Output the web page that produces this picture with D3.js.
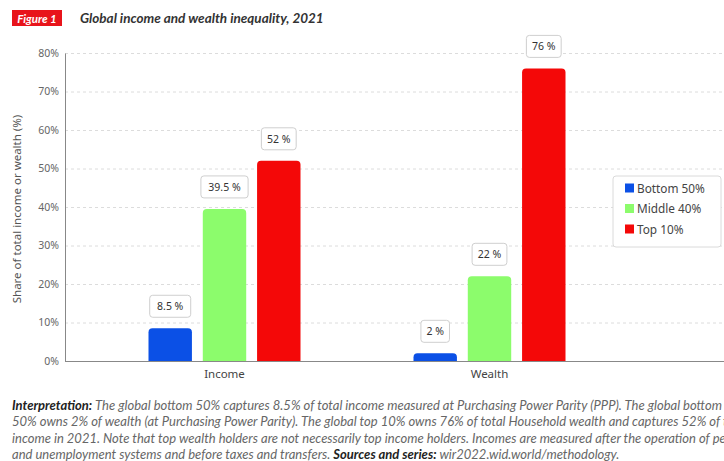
<!DOCTYPE html>
<html>
<head>
<meta charset="utf-8">
<script src="https://cdn.jsdelivr.net/npm/d3@7"></script>
<style>
  body { margin: 0; background: #fff; }
  svg { display: block; }
</style>
</head>
<body>
<svg id="chart" width="724" height="461"></svg>
<script>
// data
var categories = ['Income', 'Wealth'];
var groups = ['Bottom 50%', 'Middle 40%', 'Top 10%'];
var income = [8.5, 39.5, 52];
var wealth = [2, 22, 76];
var valueLabels = [['8.5 %', '39.5 %', '52 %'], ['2 %', '22 %', '76 %']];
var yTicks = [0, 10, 20, 30, 40, 50, 60, 70, 80];
var colors = ['#0b50e6', '#8cfc6c', '#f40808'];

var captionLines = [
	[['b', 'Interpretation: '], ['i', 'The global bottom 50% captures 8.5% of total income measured at Purchasing Power Parity (PPP). The global bottom']],
	[['i', '50% owns 2% of wealth (at Purchasing Power Parity). The global top 10% owns 76% of total Household wealth and captures 52% of total']],
	[['i', 'income in 2021. Note that top wealth holders are not necessarily top income holders. Incomes are measured after the operation of pension']],
	[['i', 'and unemployment systems and before taxes and transfers. '], ['b', 'Sources and series: '], ['i', 'wir2022.wid.world/methodology.']]
];

var series = [income, wealth];
var svg = d3.select('#chart');
var axisFont = "'Noto Sans', 'DejaVu Sans', sans-serif";

var plotLeft = 65, plotRight = 724, plotTop = 53, plotBottom = 361;

var y = d3.scaleLinear().domain([0, 80]).range([plotBottom, plotTop]);
var x0 = d3.scaleBand().domain(categories).range([92, 622]);
var x1 = d3.scaleBand().domain(groups).range([0, 152]).paddingInner(0.2);

// title
svg.append('rect').attr('x', 12).attr('y', 10).attr('width', 50).attr('height', 16)
	.attr('fill', '#e8141b');
svg.append('text').attr('x', 37).attr('y', 22.5).attr('text-anchor', 'middle')
	.attr('font-family', 'Lato').attr('font-style', 'italic').attr('font-weight', 'bold')
	.attr('font-size', '11.5px').attr('fill', '#fff').text('Figure 1');
svg.append('text').attr('x', 80).attr('y', 22.5)
	.attr('font-family', 'Lato').attr('font-style', 'italic').attr('font-weight', 'bold')
	.attr('font-size', '13.5px').attr('fill', '#333').text('Global income and wealth inequality, 2021');

// grid
svg.append('g').selectAll('line')
	.data(yTicks.filter(function(d){ return d > 0; }))
	.enter().append('line')
	.attr('x1', plotLeft).attr('x2', plotRight)
	.attr('y1', function(d){ return y(d) + 0.5; })
	.attr('y2', function(d){ return y(d) + 0.5; })
	.attr('stroke', '#dcdcdc').attr('stroke-dasharray', '3,3');

// y axis
var yAxis = svg.append('g').attr('transform', 'translate(' + plotLeft + ',0)')
	.call(d3.axisLeft(y).tickValues(yTicks).tickSize(0).tickPadding(6)
		.tickFormat(function(d){ return d + '%'; }));
yAxis.select('.domain').attr('stroke', '#888');
yAxis.selectAll('text').attr('font-family', axisFont).attr('font-size', '10.5px').attr('fill', '#666');

svg.append('text')
	.attr('transform', 'translate(21,' + ((plotTop + plotBottom) / 2 + 2) + ') rotate(-90)')
	.attr('text-anchor', 'middle')
	.attr('font-family', axisFont).attr('font-size', '11.5px').attr('fill', '#555')
	.text('Share of total income or wealth (%)');

// bars
var cat = svg.append('g').selectAll('g')
	.data(categories)
	.enter().append('g')
	.attr('transform', function(d){ return 'translate(' + (x0(d) + x0.bandwidth() / 2 - 76) + ',0)'; });

function barPath(x, w, yt, yb, r){
	r = Math.min(r, (yb - yt));
	return 'M' + x + ',' + yb + 'V' + (yt + r) +
		'Q' + x + ',' + yt + ' ' + (x + r) + ',' + yt +
		'H' + (x + w - r) +
		'Q' + (x + w) + ',' + yt + ' ' + (x + w) + ',' + (yt + r) +
		'V' + yb + 'Z';
}

cat.each(function(c, ci){
	var g = d3.select(this);
	series[ci].forEach(function(v, gi){
		var bx = x1(groups[gi]), bw = x1.bandwidth();
		g.append('path')
			.attr('d', barPath(bx, bw, y(v), y(0), 4))
			.attr('fill', colors[gi]);
		var lbl = valueLabels[ci][gi];
		var tw = lbl.length * 6.2 + 10;
		var cx = bx + bw / 2;
		g.append('rect')
			.attr('x', cx - tw / 2).attr('y', y(v) - 33)
			.attr('width', tw).attr('height', 22).attr('rx', 3)
			.attr('fill', '#fff').attr('stroke', '#cfcfcf');
		g.append('text')
			.attr('x', cx).attr('y', y(v) - 18)
			.attr('text-anchor', 'middle')
			.attr('font-family', axisFont).attr('font-size', '10.5px').attr('fill', '#333')
			.text(lbl);
	});
});

// x axis
svg.append('line').attr('x1', plotLeft).attr('x2', plotRight)
	.attr('y1', plotBottom + 0.5).attr('y2', plotBottom + 0.5)
	.attr('stroke', '#888');
svg.append('g').selectAll('text')
	.data(categories)
	.enter().append('text')
	.attr('x', function(d){ return x0(d) + x0.bandwidth() / 2; })
	.attr('y', plotBottom + 17)
	.attr('text-anchor', 'middle')
	.attr('font-family', axisFont).attr('font-size', '11.5px').attr('fill', '#444')
	.text(function(d){ return d; });

// legend
var lg = svg.append('g').attr('transform', 'translate(613,176)');
lg.append('rect').attr('width', 108).attr('height', 71).attr('rx', 3)
	.attr('fill', '#fff').attr('stroke', '#dadada');
groups.forEach(function(gname, i){
	lg.append('rect').attr('x', 12).attr('y', 7.5 + i * 20.5).attr('width', 9).attr('height', 9)
		.attr('fill', colors[i]);
	lg.append('text').attr('x', 24).attr('y', 16.5 + i * 20.5)
		.attr('font-family', axisFont).attr('font-size', '11.8px').attr('fill', '#444')
		.text(gname);
});

// caption
captionLines.forEach(function(line, i){
	var t = svg.append('text').attr('x', 12).attr('y', 410 + i * 16.3)
		.attr('font-family', 'Lato').attr('font-size', '13px');
	line.forEach(function(part){
		t.append('tspan')
			.attr('font-weight', part[0] == 'b' ? 'bold' : 'normal')
			.attr('font-style', 'italic')
			.attr('fill', part[0] == 'b' ? '#222' : '#666')
			.text(part[1]);
	});
});
</script>
</body>
</html>
